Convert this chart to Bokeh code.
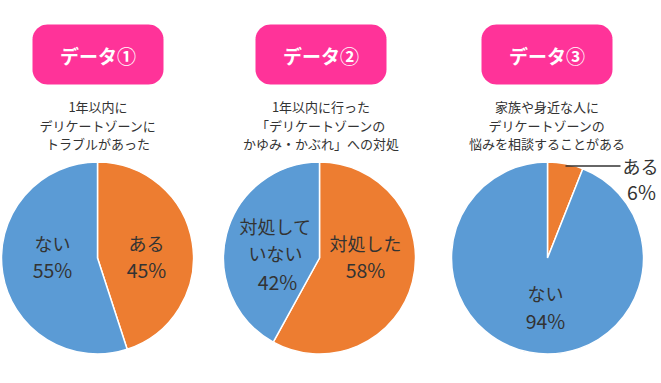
import numpy as np
from bokeh.plotting import figure
from bokeh.models import Range1d
from bokeh.core.properties import value
from bokeh.embed import file_html
from bokeh.resources import INLINE

# ---- data ----
titles = ["データ①", "データ②", "データ③"]
subtitles = [
    ["1年以内に", "デリケートゾーンに", "トラブルがあった"],
    ["1年以内に行った", "「デリケートゾーンの", "かゆみ・かぶれ」への対処"],
    ["家族や身近な人に", "デリケートゾーンの", "悩みを相談することがある"],
]
cats1 = ["ある", "ない"]
vals1 = [45, 55]
cats2 = ["対処した", "対処していない"]
vals2 = [58, 42]
cats3 = ["ある", "ない"]
vals3 = [6, 94]

W, H = 661, 383
FONT = value("Noto Sans CJK JP")
ORANGE = "#ED7D31"
BLUE = "#5B9BD5"
PINK = "#FF3399"
TXT = "#333333"

p = figure(width=W, height=H, output_backend="svg", toolbar_location=None,
           x_range=Range1d(0, W), y_range=Range1d(0, H), min_border=0)
p.axis.visible = False
p.grid.visible = False
p.outline_line_color = None
p.background_fill_color = "white"
p.border_fill_color = "white"

def Y(y):
    return H - y

def rounded_rect(cx, cy, w, h, r, n=12):
    xs, ys = [], []
    corners = [(cx + w / 2 - r, cy - h / 2 + r, -90, 0),
               (cx + w / 2 - r, cy + h / 2 - r, 0, 90),
               (cx - w / 2 + r, cy + h / 2 - r, 90, 180),
               (cx - w / 2 + r, cy - h / 2 + r, 180, 270)]
    for (x0, y0, a0, a1) in corners:
        a = np.radians(np.linspace(a0, a1, n))
        xs.extend(x0 + r * np.cos(a))
        ys.extend(y0 + r * np.sin(a))
    return xs, ys

centers_x = [97.5, 320.5, 546.5]

# buttons and titles
for i, cx in enumerate(centers_x):
    xs, ys = rounded_rect(cx, Y(54), 131, 60, 15)
    p.patch(xs, ys, fill_color=PINK, line_color=None)
    p.text(x=[cx], y=[Y(55)], text=[titles[i]], text_font=FONT,
           text_font_size="19px", text_font_style="bold", text_color="white",
           text_align="center", text_baseline="middle")
    for j, line in enumerate(subtitles[i]):
        p.text(x=[cx], y=[Y(106 + j * 18.5)], text=[line], text_font=FONT,
               text_font_size="13px", text_color=TXT,
               text_align="center", text_baseline="middle")

# pies
pie_centers = [(97, 257.5), (319, 257.5), (547, 257.5)]
R = 96
for (pcx, pcy), vals in zip(pie_centers, [vals1, vals2, vals3]):
    fracs = np.array(vals, dtype=float) / sum(vals)
    starts = np.pi / 2 - 2 * np.pi * np.concatenate([[0], np.cumsum(fracs)[:-1]])
    ends = np.pi / 2 - 2 * np.pi * np.cumsum(fracs)
    p.wedge(x=[pcx] * 2, y=[Y(pcy)] * 2, radius=R, start_angle=list(starts),
            end_angle=list(ends), direction="clock",
            fill_color=[ORANGE, BLUE], line_color="white", line_width=1.5)

def label(x, y, t, size="18px"):
    p.text(x=[x], y=[Y(y)], text=[t], text_font=FONT, text_font_size=size,
           text_color=TXT, text_align="center", text_baseline="middle")

PCT = "19.5px"
# chart 1 labels
label(146, 242, cats1[0]); label(146, 269, f"{vals1[0]}%", PCT)
label(52, 242, cats1[1]); label(52, 269, f"{vals1[1]}%", PCT)
# chart 2 labels
label(365, 242, cats2[0]); label(365, 269, f"{vals2[0]}%", PCT)
label(275, 225, cats2[1][:4]); label(275, 252, cats2[1][4:]); label(277, 281, f"{vals2[1]}%", PCT)
# chart 3 labels
label(545, 292, cats3[1]); label(545, 320, f"{vals3[1]}%", PCT)
label(640, 165, cats3[0]); label(641, 191, f"{vals3[0]}%", PCT)
p.line(x=[565, 620], y=[Y(165.5), Y(165.5)], line_color=TXT, line_width=1.5)

open("out.html", "w").write(file_html(p, INLINE))
